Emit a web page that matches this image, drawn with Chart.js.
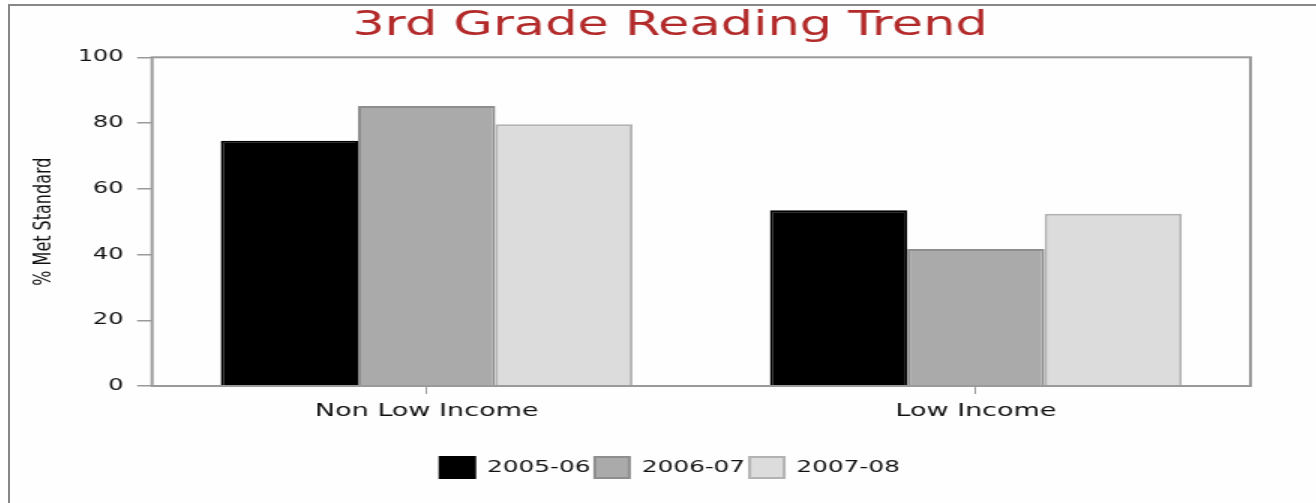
<!DOCTYPE html>
<html>
<head>
<meta charset="utf-8">
<script src="https://cdn.jsdelivr.net/npm/chart.js@4"></script>
<style>
    body { margin: 0; background: #ffffff; overflow: hidden; }
    #frame {
        position: absolute; left: 8px; top: 4px;
        width: 1308px; height: 499px;
        border-left: 2px solid #888888; border-top: 2px solid #888888;
        background: #fefefe;
    }
    /* the original picture is stretched sideways, so the canvas is too */
    #chart { position: absolute; left: 0; top: 0; transform: scaleX(1.5); transform-origin: 0 0; }
</style>
</head>
<body>
<div id="frame"><canvas id="chart" width="871" height="497"></canvas></div>
<script>
// data
var categories = ["Non Low Income", "Low Income"];
var seriesNames = ["2005-06", "2006-07", "2007-08"];
var values0506 = [74.6, 53.5];
var values0607 = [85.2, 41.7];
var values0708 = [79.6, 52.4];
var yTicks = [0, 20, 40, 60, 80, 100];

var fills = ["#000000", "#aaaaaa", "#dcdcdc"];
var borders = ["#000000", "#8e8e8e", "#b2b2b2"];

function make_set(i, values) {
    return {
        label: seriesNames[i],
        data: values,
        backgroundColor: fills[i],
        borderColor: borders[i],
        borderWidth: 2,
        borderSkipped: "bottom",
        categoryPercentage: 0.75,
        barPercentage: 1.0
    };
}

// grey box round the plot area
var plotFrame = {
    id: "plotFrame",
    afterDatasetsDraw: function (chart) {
        var a = chart.chartArea;
        var ctx = chart.ctx;
        ctx.save();
        ctx.strokeStyle = "#9a9a9a";
        ctx.lineWidth = 2;
        ctx.strokeRect(a.left, a.top, a.right - a.left, a.bottom - a.top);
        ctx.restore();
    }
};

Chart.defaults.font.family = "'DejaVu Sans', Verdana, sans-serif";
Chart.defaults.color = "#111111";

new Chart(document.getElementById("chart"), {
    type: "bar",
    data: {
        labels: categories,
        datasets: [make_set(0, values0506), make_set(1, values0607), make_set(2, values0708)]
    },
    plugins: [plotFrame],
    options: {
        responsive: false,
        animation: false,
        devicePixelRatio: 1,
        layout: { padding: { left: 9, right: 0, top: 0, bottom: 15 } },
        plugins: {
            title: {
                display: true,
                text: "3rd Grade Reading Trend",
                color: "#b22a2a",
                font: { size: 34, weight: "normal", lineHeight: 1 },
                padding: { top: 3, bottom: 14.3 }
            },
            legend: {
                position: "bottom",
                labels: {
                    boxWidth: 23,
                    boxHeight: 21,
                    padding: 3,
                    color: "#111111",
                    font: { size: 16.5 }
                }
            },
            tooltip: { enabled: false }
        },
        scales: {
            x: {
                grid: { offset: false, drawOnChartArea: false, drawTicks: true, tickLength: 8, color: "#9a9a9a", lineWidth: 1 },
                border: { display: false },
                ticks: { padding: 7, font: { size: 18 }, maxRotation: 0 },
                afterFit: function (s) { s.height = 68; }
            },
            y: {
                min: 0,
                max: 100,
                afterBuildTicks: function (s) { s.ticks = yTicks.map(function (v) { return { value: v }; }); },
                grid: { drawOnChartArea: false, drawTicks: true, tickLength: 10, color: "#9a9a9a", lineWidth: 1.5 },
                border: { display: false },
                ticks: { padding: 9, font: { size: 16 } },
                title: {
                    display: true,
                    text: "% Met Standard",
                    font: { size: 16 },
                    padding: { top: 4.7, bottom: 0 }
                },
                afterFit: function (s) { s.width = 85.7; }
            },
            // empty margin on the right of the plot
            yRight: {
                type: "linear",
                position: "right",
                grid: { display: false },
                border: { display: false },
                ticks: { display: false },
                afterFit: function (s) { s.width = 44; }
            }
        }
    }
});
</script>
</body>
</html>
